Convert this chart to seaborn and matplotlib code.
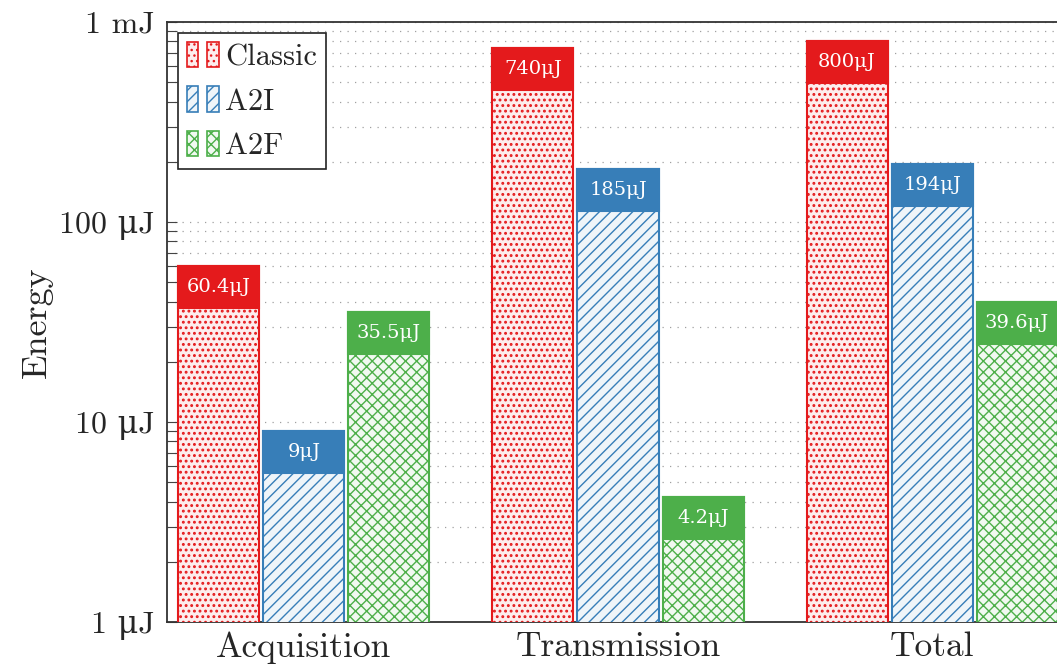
import matplotlib
matplotlib.use("Agg")
import matplotlib.pyplot as plt
from matplotlib.patches import Patch
from matplotlib.legend_handler import HandlerTuple
from matplotlib.colors import to_rgb
import numpy as np
import pandas as pd
import seaborn as sns

# Energy per processing stage (in microjoules)
stages = ["Acquisition", "Transmission", "Total"]
schemes = ["Classic", "A2I", "A2F"]
classic_uj = [60.4, 740, 800]
a2i_uj = [9, 185, 194]
a2f_uj = [35.5, 4.2, 39.6]

ytick_values = [1, 10, 100, 1000]
ytick_labels = ["1 μJ", "10 μJ", "100 μJ", "1 mJ"]

colors = ["#e41a1c", "#377eb8", "#4daf4a"]
hatches = ["...", "///", "xxx"]
hatch_widths = [1.3, 1.0, 1.0]

sns.set_style("white")
plt.rcParams["font.family"] = ["cmr10", "DejaVu Serif"]
plt.rcParams["axes.formatter.use_mathtext"] = True
plt.rcParams["hatch.linewidth"] = 1.0

df = pd.DataFrame({
    "stage": stages * 3,
    "scheme": [s for s in schemes for _ in stages],
    "energy": classic_uj + a2i_uj + a2f_uj,
})

fig = plt.figure(figsize=(10.57, 6.68), dpi=100)
ax = fig.add_axes([167 / 1057, 46 / 668, 902 / 1057, 600 / 668])

sns.barplot(data=df, x="stage", y="energy", hue="scheme", order=stages,
            hue_order=schemes, palette=colors, width=0.812, gap=0.047,
            legend=False, ax=ax, zorder=3)
ax.set_yscale("log", nonpositive="clip")


def tint(c, amount=0.08):
    r, g, b = to_rgb(c)
    return (1 - amount * (1 - r), 1 - amount * (1 - g), 1 - amount * (1 - b))


def style_patch(p, color, hatch, hlw):
    p.set_facecolor(tint(color))
    p.set_edgecolor(color)
    p.set_hatch(hatch)
    if hasattr(p, "set_hatch_linewidth"):
        p.set_hatch_linewidth(hlw)


band_ratio = 10 ** (42 / 200)  # height of the solid value band on the log axis

for container, color, hatch, hlw in zip(ax.containers, colors, hatches, hatch_widths):
    for bar in container:
        style_patch(bar, color, hatch, hlw)
        bar.set_linewidth(1.5)
        value = bar.get_height()
        xc = bar.get_x() + bar.get_width() / 2
        w = bar.get_width()
        low = value / band_ratio
        ax.bar(xc, value - low, bottom=low, width=w, color=color,
               edgecolor=color, linewidth=1.5, zorder=4)
        ax.text(xc, np.sqrt(value * low), f"{value:g}μJ", color="white",
                ha="center", va="center", fontsize=14,
                family=["DejaVu Serif"], zorder=5)

ax.set_ylim(1, 1000)
ax.set_xlim(-0.436, 2.436)
ax.set_yticks(ytick_values)
ax.set_yticklabels(ytick_labels)
ax.set_yticks([m * d for d in (1, 10, 100) for m in range(2, 10)], minor=True)
ax.tick_params(axis="y", which="both", direction="in", length=7, width=0.8,
               color="#444444", left=True, labelsize=23, pad=9)
ax.tick_params(axis="y", which="minor", labelleft=False)
ax.tick_params(axis="x", length=0, labelsize=25.5, pad=7)
ax.set_xlabel("")
ax.set_ylabel("Energy", fontsize=26, labelpad=4)

ax.grid(True, axis="y", which="both", linestyle=(0, (1, 5)),
        color="#a0a0a0", linewidth=0.9, zorder=0)
ax.set_axisbelow(True)
for sp in ax.spines.values():
    sp.set_color("#333333")
    sp.set_linewidth(1.3)

handles = []
for c, h, hlw in zip(colors, hatches, hatch_widths):
    pair = []
    for _ in range(2):
        p = Patch(linewidth=1.2)
        style_patch(p, c, h, hlw)
        pair.append(p)
    handles.append(tuple(pair))

leg = ax.legend(handles, schemes, loc="upper left", fontsize=22,
                handler_map={tuple: HandlerTuple(ndivide=None, pad=0.3)},
                handlelength=1.05, handleheight=0.9, handletextpad=0.2,
                labelspacing=0.5, borderpad=0.3, borderaxespad=0.35,
                fancybox=False, framealpha=1, edgecolor="#222222")
leg.get_frame().set_linewidth(1.2)
leg.set_zorder(10)

fig.savefig("out.png", dpi=100)
